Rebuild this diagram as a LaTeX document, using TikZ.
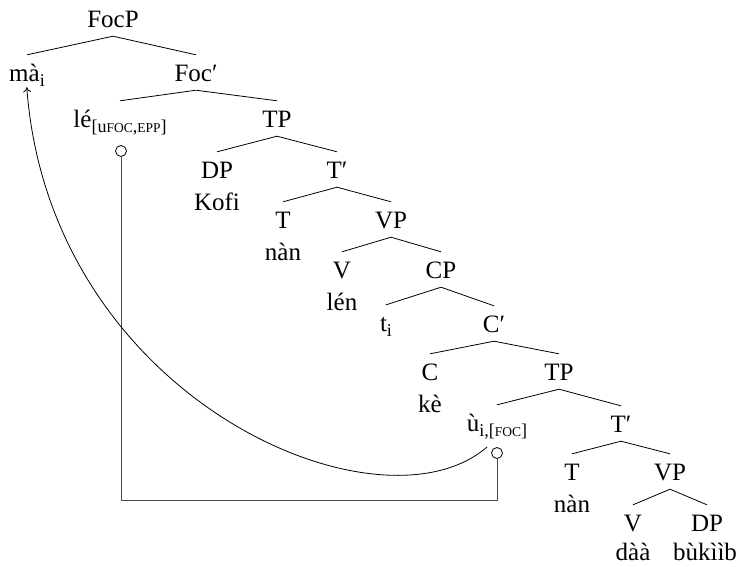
\documentclass[tikz,border=0pt]{standalone}
\usepackage{fontspec}
\setmainfont{Liberation Serif}
\usetikzlibrary{calc,arrows.meta}
\newcommand\sbs[1]{\raisebox{-0.22em}{\fontsize{18}{18}\selectfont #1}}
\newcommand\fsc[1]{{\fontsize{13.5}{13.5}\selectfont #1}}
\newcommand\pr{\char"2032}
\begin{document}
\begin{tikzpicture}[x=1pt,y=-1pt,
  every node/.style={font=\fontsize{25}{29}\selectfont, inner sep=0pt},
  lab/.style={anchor=base, text height=26pt, text depth=9pt},
  lex/.style={anchor=base},
  br/.style={line width=0.8pt},
  trace/.style={circle, draw, minimum size=11pt, inner sep=0pt, line width=0.8pt},
  agree/.style={draw=black!70, line width=0.8pt},
  move/.style={line width=0.8pt, -{To[length=5pt,width=8pt]}}]
\useasboundingbox (0,0) rectangle (744,566);
% level 0
\node[lab] (FocP) at (113,27) {FocP};
% level 1
\node[lab] (ma) at (27,81) {mà\sbs{i}};
\node[lab] (focbar) at (196,81) {Foc\pr};
% level 2
\node[lab] (le) at (120,127) {lé\sbs{[u\fsc{FOC},\fsc{EPP}]}};
\node[lab] (TPa) at (277,127) {TP};
% level 3
\node[lab] (DPa) at (217,178) {DP};
\node[lex] (kofi) at (217,210) {Kofi};
\node[lab] (Tbara) at (337,178) {T\pr};
% level 4
\node[lab] (Ta) at (283,228) {T};
\node[lex] (nana) at (283,260) {nàn};
\node[lab] (VPa) at (391,228) {VP};
% level 5
\node[lab] (Va) at (342,278) {V};
\node[lex] (len) at (342,310) {lén};
\node[lab] (CP) at (441,278) {CP};
% level 6
\node[lab] (ti) at (386,331) {t\sbs{i}};
\node[lab] (Cbar) at (494,332) {C\pr};
% level 7
\node[lab] (C) at (430,380) {C};
\node[lex] (ke) at (430,412) {kè};
\node[lab] (TPb) at (559,380) {TP};
% level 8
\node[lab] (u) at (497,431) {ù\sbs{i,[\fsc{FOC}]}};
\node[lab] (Tbarb) at (621,432) {T\pr};
% level 9
\node[lab] (Tb) at (572,480) {T};
\node[lex] (nanb) at (572,512) {nàn};
\node[lab] (VPb) at (670,480) {VP};
% level 10
\node[lab] (Vb) at (633,531) {V};
\node[lex] (daa) at (633,560) {dàà};
\node[lab] (DPb) at (707,531) {DP};
\node[lex] (bukiib) at (705,560) {bùkììb};
% branches
\foreach \p/\a/\b in {FocP/ma/focbar, focbar/le/TPa, TPa/DPa/Tbara, Tbara/Ta/VPa,
  VPa/Va/CP, CP/ti/Cbar, Cbar/C/TPb, TPb/u/Tbarb, Tbarb/Tb/VPb, VPb/Vb/DPb}{
  \draw[br] (\a.north) -- (\p.south) -- (\b.north);
}
% agreement circles
\node[trace] (lec) at (121,151) {};
\node[trace] (uc) at (497,453) {};
\coordinate (bot) at (300,500);
\draw[agree] (lec.south) |- (bot) -| (uc.south);
% movement
\draw[move, shorten >=-3pt] ($(uc)+(-10,-6)$) .. controls (380,540) and (50,400) .. (ma.south);
\end{tikzpicture}
\end{document}
